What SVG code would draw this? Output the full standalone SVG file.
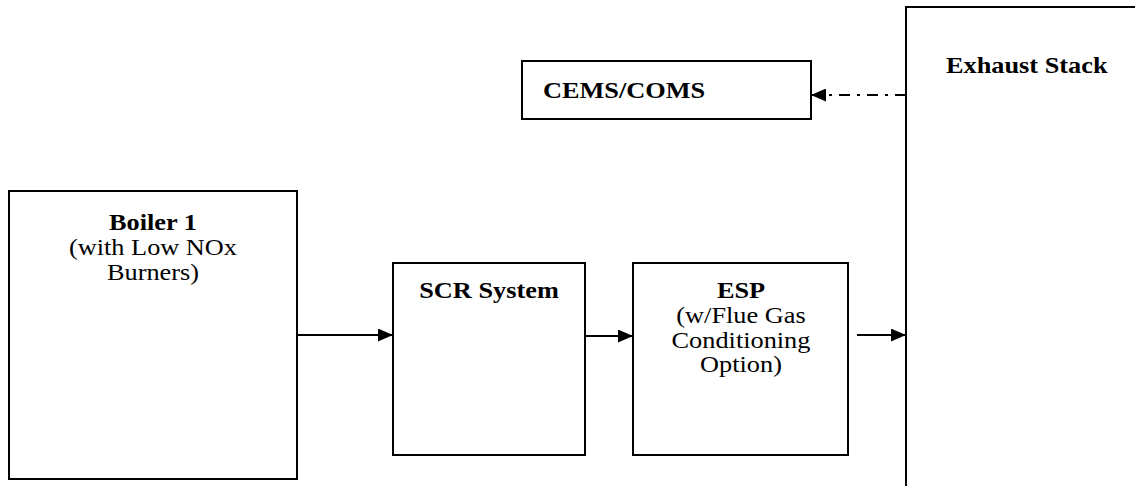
<svg xmlns="http://www.w3.org/2000/svg" width="1135" height="486" viewBox="0 0 1135 486">
<style>
.box{fill:#fff;stroke:#000;stroke-width:2}
.t{font-family:"Liberation Serif","Times New Roman",serif;font-size:22.5px;fill:#000}
.m{text-anchor:middle}
.b{font-weight:bold}
.c{stroke:#000;stroke-width:2;fill:none}
</style>
<defs>
<marker id="ah" markerWidth="15" markerHeight="13" refX="15" refY="6.5" orient="auto" markerUnits="userSpaceOnUse">
<path d="M0,0 L15,6.5 L0,13 z" fill="#000"/>
</marker>
</defs>
<rect width="1135" height="486" fill="#fff"/>
<g id="boiler">
<rect class="box" x="9" y="191" width="288" height="288"/>
<text class="t b m" transform="matrix(1.17 0 0 1 153 229.5)">Boiler 1</text>
<text class="t m" transform="matrix(1.17 0 0 1 153 254.5)">(with Low NOx</text>
<text class="t m" transform="matrix(1.17 0 0 1 153 279.5)">Burners)</text>
</g>
<g id="scr">
<rect class="box" x="393" y="263" width="192" height="192"/>
<text class="t b m" transform="matrix(1.17 0 0 1 489 298)">SCR System</text>
</g>
<g id="esp">
<rect class="box" x="633" y="263" width="215" height="192"/>
<text class="t b m" transform="matrix(1.17 0 0 1 741 298)">ESP</text>
<text class="t m" transform="matrix(1.17 0 0 1 741 323)">(w/Flue Gas</text>
<text class="t m" transform="matrix(1.17 0 0 1 741 347.5)">Conditioning</text>
<text class="t m" transform="matrix(1.17 0 0 1 741 372)">Option)</text>
</g>
<g id="stack">
<rect class="box" x="906" y="7" width="240" height="490"/>
<text class="t b" transform="matrix(1.17 0 0 1 946 73)">Exhaust Stack</text>
</g>
<g id="cems">
<rect class="box" x="522" y="61" width="289" height="58"/>
<text class="t b" transform="matrix(1.17 0 0 1 543 97.5)">CEMS/COMS</text>
</g>
<g id="connectors">
<line class="c" x1="297" y1="335" x2="393" y2="335" marker-end="url(#ah)"/>
<line class="c" x1="585" y1="336" x2="633" y2="336" marker-end="url(#ah)"/>
<line class="c" x1="857" y1="335" x2="906" y2="335" marker-end="url(#ah)"/>
<line class="c" x1="906" y1="95" x2="811" y2="95" stroke-dasharray="11,7,3,7" marker-end="url(#ah)"/>
</g>
</svg>
